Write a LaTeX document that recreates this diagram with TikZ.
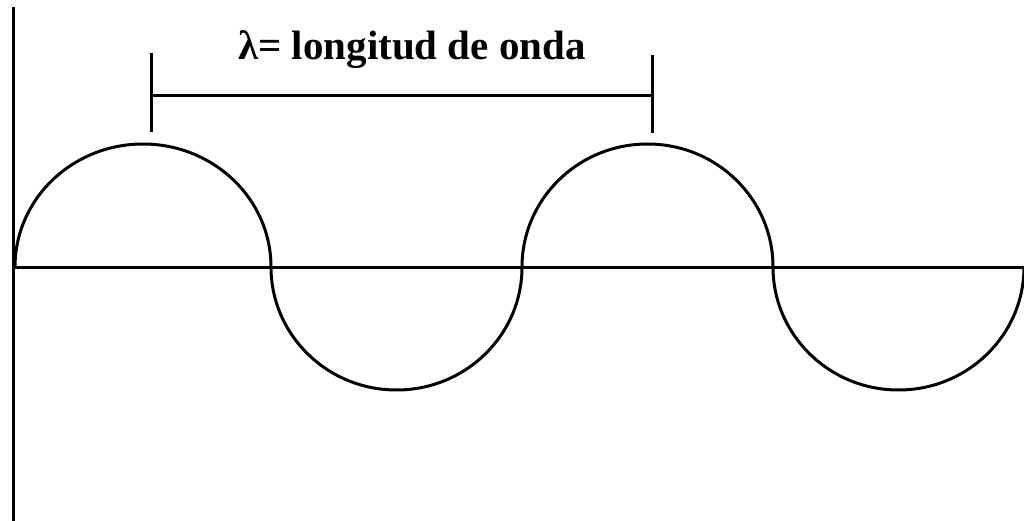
\documentclass[tikz,border=0pt]{standalone}
\usepackage{fontspec}
\setmainfont{Liberation Serif}
\begin{document}
\begin{tikzpicture}[x=1pt,y=-1pt,
  line/.style={line width=3pt,black},
  wave/.style={line width=3pt,black,line join=round}]
\useasboundingbox (0,0) rectangle (1024,521);
\coordinate (vtop) at (13,7);
\coordinate (vbot) at (13,521);
\coordinate (hleft) at (13,267);
\coordinate (hright) at (1024,267);
\draw[line] (vtop) -- (vbot);
\draw[line] (hleft) -- (hright);
% wave
\coordinate (w0) at (15,267);
\draw[wave] (w0) arc[start angle=180,end angle=0,x radius=128,y radius=-123]
  arc[start angle=180,end angle=360,x radius=125.5,y radius=-123]
  arc[start angle=180,end angle=0,x radius=125.5,y radius=-123]
  arc[start angle=180,end angle=360,x radius=125.5,y radius=-123];
% bracket
\coordinate (lt) at (151,53);
\coordinate (lb) at (151,132);
\coordinate (lm) at (151,96);
\coordinate (rt) at (652,55);
\coordinate (rb) at (652,133);
\coordinate (rm) at (652,96);
\draw[line] (lt) -- (lb);
\draw[line] (rt) -- (rb);
\draw[line] (lm) -- (rm);
\node[anchor=base,inner sep=0pt,font=\fontsize{41}{41}\selectfont\bfseries] (lab) at (412,60) {λ= longitud de onda};
\end{tikzpicture}
\end{document}
